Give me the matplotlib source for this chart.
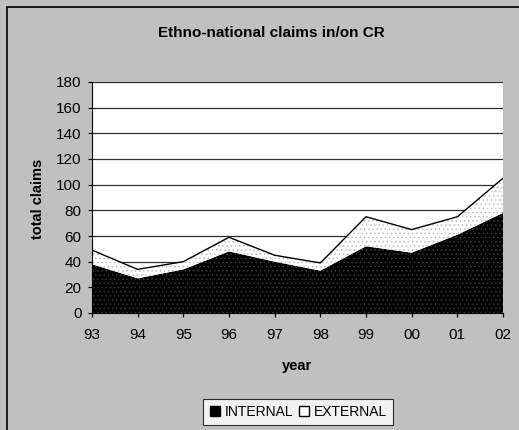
import matplotlib.pyplot as plt
from matplotlib.lines import Line2D
from matplotlib.patches import Rectangle

plt.rcParams["font.family"] = ["Liberation Sans", "DejaVu Sans"]
plt.rcParams["hatch.linewidth"] = 0.6

years = ["93", "94", "95", "96", "97", "98", "99", "00", "01", "02"]
internal = [38, 27, 34, 48, 40, 33, 52, 47, 61, 78]
external = [11, 7, 6, 11, 5, 6, 23, 18, 14, 27]

x = list(range(len(years)))
total = [a + b for a, b in zip(internal, external)]

fig = plt.figure(figsize=(5.19, 4.30), dpi=100)
fig.patch.set_facecolor("#c0c0c0")

# outer chart border (cut at right/bottom as in the source)
fig.patches.append(Rectangle((7 / 519, -0.1), 1.2, 1 - 7 / 430 + 0.1,
                             transform=fig.transFigure, fill=False,
                             edgecolor="black", linewidth=1.2))

ax = fig.add_axes([92 / 519, 1 - 313 / 430, 411 / 519, 231 / 430])
ax.set_facecolor("white")

ax.fill_between(x, 0, internal, facecolor="black", edgecolor="#3a3a3a",
                hatch="....", linewidth=0, zorder=2)
ax.fill_between(x, internal, total, facecolor="white", edgecolor="#bdbdbd",
                hatch="....", linewidth=0, zorder=2)
ax.plot(x, total, color="black", linewidth=1.0, zorder=3)

ax.set_xlim(0, len(years) - 1)
ax.set_ylim(0, 180)
ax.set_yticks(range(0, 181, 20))
ax.set_xticks(x)
ax.set_xticklabels(years)
ax.yaxis.grid(True, color="#303030", linewidth=0.9)
ax.set_axisbelow(True)
for s in ["top", "right"]:
    ax.spines[s].set_visible(False)
ax.spines["left"].set_zorder(4)
ax.spines["bottom"].set_zorder(4)
ax.tick_params(axis="both", labelsize=11, length=3, width=0.9)
ax.tick_params(axis="y", pad=4.5)
ax.tick_params(axis="x", pad=7.5)

fig.text(271 / 519, 1 - 33 / 430, "Ethno-national claims in/on CR",
         ha="center", va="center", fontsize=11, fontweight="bold")
fig.text(297 / 519, 1 - 366 / 430, "year", ha="center", va="center",
         fontsize=10.5, fontweight="bold")
fig.text(38 / 519, 1 - 199 / 430, "total claims", ha="center", va="center",
         rotation=90, fontsize=10.5, fontweight="bold")

handles = [
    Line2D([], [], linestyle="none", marker="s", markersize=7,
           markerfacecolor="black", markeredgecolor="black"),
    Line2D([], [], linestyle="none", marker="s", markersize=7,
           markerfacecolor="white", markeredgecolor="black"),
]
leg = fig.legend(handles, ["INTERNAL", "EXTERNAL"], loc="center",
                 bbox_to_anchor=(298 / 519, 1 - 412 / 430), ncol=2,
                 fontsize=10, frameon=True, fancybox=False, handlelength=0.8,
                 handletextpad=0.3, columnspacing=0.4, borderpad=0.45)
leg.get_frame().set_edgecolor("black")
leg.get_frame().set_linewidth(0.8)

fig.savefig("out.png", dpi=100, facecolor=fig.get_facecolor())
